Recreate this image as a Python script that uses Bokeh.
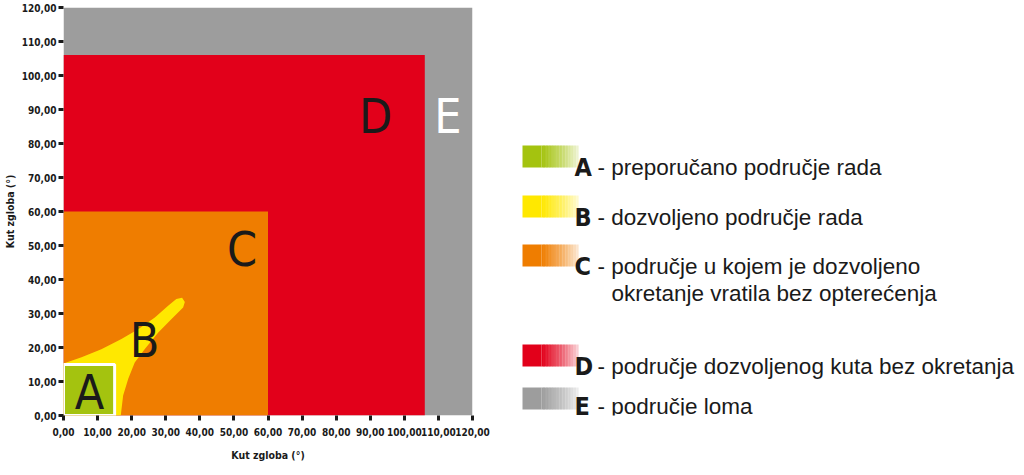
from bokeh.plotting import figure
from bokeh.layouts import row
from bokeh.models import Range1d, FixedTicker
from bokeh.core.properties import value
from bokeh.embed import file_html
from bokeh.resources import INLINE

# ---------------- data ----------------
tick_values = [0, 10, 20, 30, 40, 50, 60, 70, 80, 90, 100, 110, 120]
tick_labels = ["0,00", "10,00", "20,00", "30,00", "40,00", "50,00", "60,00",
               "70,00", "80,00", "90,00", "100,00", "110,00", "120,00"]

zone_names = ["E", "D", "C", "A"]
zone_limits = [120, 106, 60, 15.0]          # square zones from origin
zone_colors = ["#9d9d9d", "#e2001a", "#ef7d00", "#a4c30f"]

zone_b_x = [0, 5.3, 11.1, 17, 21.9, 26.8, 30.7, 33.1, 34.8, 35.6, 35.1, 31.7, 27.8, 23.8, 20.9, 19, 17.5, 16.8, 0]
zone_b_y = [15.3, 17.1, 19.5, 22.5, 25.4, 28.8, 32.3, 34.3, 34.6, 33.4, 31.8, 28.4, 24.4, 19.5, 15.6, 10.8, 5.9, 0, 0]
zone_b_color = "#ffe800"

letters = ["A", "B", "C", "D", "E"]
letter_x = [7.6, 23.8, 52.4, 91.6, 112.8]
letter_y = [6.8, 22.2, 49.0, 88.2, 88.2]
letter_colors = ["#1a1a1a", "#1a1a1a", "#1a1a1a", "#1a1a1a", "#ffffff"]

legend_letters = ["A", "B", "C", "D", "E"]
legend_colors = ["#a4c30f", "#ffe800", "#ef7d00", "#e2001a", "#9d9d9d"]
legend_texts = ["-  preporučano područje rada",
                "- dozvoljeno područje rada",
                "- područje u kojem je dozvoljeno",
                "- područje dozvoljenog kuta bez okretanja",
                "- područje loma"]
legend_extra = "okretanje vratila bez opterećenja"

axis_title = "Kut zgloba (°)"

# ---------------- chart ----------------
COND = "DejaVu Sans Condensed, Roboto, sans-serif"
DARK = "#1a1a1a"
FIG_H = 470
TOP = 7
FRAME_H = 408
FRAME_BOTTOM = TOP + FRAME_H

p = figure(width=496, height=FIG_H, frame_width=409, frame_height=FRAME_H,
           x_range=Range1d(0, 120), y_range=Range1d(0, 120),
           output_backend="svg", toolbar_location=None,
           min_border_left=62, min_border_top=TOP, min_border_right=25,
           min_border_bottom=FIG_H - FRAME_BOTTOM)
p.outline_line_color = None
p.xgrid.visible = False
p.ygrid.visible = False
p.background_fill_color = "white"
p.border_fill_color = "white"

for lim, col in zip(zone_limits[:3], zone_colors[:3]):
    p.quad(left=[0], right=[lim], bottom=[0], top=[lim], fill_color=col, line_color=None)

p.patch(zone_b_x, zone_b_y, fill_color=zone_b_color, line_color=None)

a_lim = zone_limits[3]
p.quad(left=[0], right=[a_lim], bottom=[0], top=[a_lim],
       fill_color=zone_colors[3], line_color="white", line_width=3)

p.text(x=letter_x, y=letter_y, text=letters, text_color=letter_colors,
       text_font=value(COND), text_font_size="48px", text_align="center",
       text_baseline="middle")

labels_map = {v: l for v, l in zip(tick_values, tick_labels)}
for ax in (p.xaxis[0], p.yaxis[0]):
    ax.ticker = FixedTicker(ticks=tick_values)
    ax.major_label_overrides = labels_map
    ax.axis_line_color = None
    ax.major_tick_line_color = DARK
    ax.major_tick_line_width = 3
    ax.major_tick_out = 5
    ax.major_tick_in = 0
    ax.minor_tick_line_color = None
    ax.major_label_text_font = COND
    ax.major_label_text_font_size = "10px"
    ax.major_label_text_font_style = "bold"
    ax.major_label_text_color = DARK
    ax.axis_label = axis_title
    ax.axis_label_text_font = COND
    ax.axis_label_text_font_size = "10.5px"
    ax.axis_label_text_font_style = "bold"
    ax.axis_label_text_color = DARK
p.xaxis[0].major_label_standoff = 7
p.xaxis[0].axis_label_standoff = 10
p.yaxis[0].major_label_standoff = 2
p.yaxis[0].axis_label_standoff = 3

# ---------------- legend panel ----------------
# its frame shares the chart frame's rows, so data y == page row
L = figure(width=528, height=FIG_H, x_range=Range1d(0, 528),
           y_range=Range1d(FRAME_BOTTOM, TOP),
           output_backend="svg", toolbar_location=None,
           min_border_left=0, min_border_right=0, min_border_top=TOP,
           min_border_bottom=FIG_H - FRAME_BOTTOM)
L.axis.visible = False
L.xgrid.visible = False
L.ygrid.visible = False
L.outline_line_color = None
L.background_fill_color = "white"

X0 = 496                      # page column where the legend panel starts
row_bottoms = [167, 217, 266, 366, 409]
text_baselines = [167, 217, 266, 366, 406]
sw_left, sw_solid, sw_right, sw_h = 521 - X0, 540 - X0, 577 - X0, 22
n_fade = 24
for col, yb in zip(legend_colors, row_bottoms):
    L.quad(left=[sw_left], right=[sw_solid], bottom=[yb], top=[yb - sw_h],
           fill_color=col, line_color=None)
    step = (sw_right - sw_solid) / n_fade
    lefts = [sw_solid + i * step for i in range(n_fade)]
    rights = [sw_solid + (i + 1) * step + 0.4 for i in range(n_fade)]
    alphas = [1 - 0.88 * (i + 0.5) / n_fade for i in range(n_fade)]
    L.quad(left=lefts, right=rights, bottom=[yb] * n_fade, top=[yb - sw_h] * n_fade,
           fill_color=col, fill_alpha=alphas, line_color=None)

L.text(x=[573 - X0] * 5, y=text_baselines, text=legend_letters, text_color=DARK,
       text_font=value(COND), text_font_style="bold", text_font_size="25px",
       text_align="left", text_baseline="alphabetic")
L.text(x=[596 - X0] * 5, y=text_baselines, text=legend_texts, text_color=DARK,
       text_font=value("Liberation Sans"), text_font_size="22.5px",
       text_align="left", text_baseline="alphabetic")
L.text(x=[610 - X0], y=[text_baselines[2] + 27], text=[legend_extra], text_color=DARK,
       text_font=value("Liberation Sans"), text_font_size="22.5px",
       text_align="left", text_baseline="alphabetic")

layout = row(p, L)
open("out.html", "w").write(file_html(layout, INLINE))
